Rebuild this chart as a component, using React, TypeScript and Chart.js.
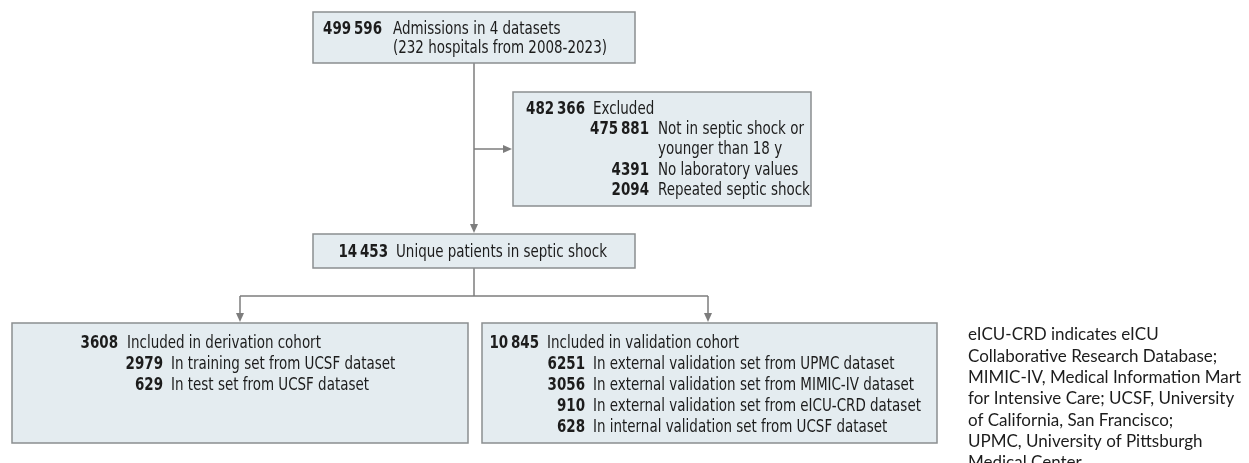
import React, { useEffect, useRef } from "react";
import { Chart, registerables } from "chart.js";

Chart.register(...registerables);

// ---- data ----
const totalAdmissions = 499596;
const sourceLines = ["Admissions in 4 datasets", "(232 hospitals from 2008-2023)"];
const excludedTotal = 482366;
const excludedCounts = [475881, 4391, 2094];
const excludedLabels = [
  ["Not in septic shock or", "younger than 18 y"],
  ["No laboratory values"],
  ["Repeated septic shock"],
];
const uniquePatients = 14453;
const uniqueLabel = "Unique patients in septic shock";
const derivationTotal = 3608;
const derivationLabel = "Included in derivation cohort";
const derivationCounts = [2979, 629];
const derivationLabels = ["In training set from UCSF dataset", "In test set from UCSF dataset"];
const validationTotal = 10845;
const validationLabel = "Included in validation cohort";
const validationCounts = [6251, 3056, 910, 628];
const validationLabels = [
  "In external validation set from UPMC dataset",
  "In external validation set from MIMIC-IV dataset",
  "In external validation set from eICU-CRD dataset",
  "In internal validation set from UCSF dataset",
];
const footnoteLines = [
  "eICU-CRD indicates eICU",
  "Collaborative Research Database;",
  "MIMIC-IV, Medical Information Mart",
  "for Intensive Care; UCSF, University",
  "of California, San Francisco;",
  "UPMC, University of Pittsburgh",
  "Medical Center",
];

// ---- layout (canvas units) ----
const W = 1249;
const H = 463;
const BOX_FONT = "'Liberation Sans Narrow', 'DejaVu Sans Condensed', 'Roboto Condensed', sans-serif";
const BOX_SIZE = 17;
const BOX_SCALE_X = 0.88;
const TEXT_DY = 1.5;
const NOTE_FONT = "Lato, 'Open Sans', sans-serif";
const FILL = "#e4ecf0";
const BORDER = "#8b8e90";
const LINE = "#7d7d7d";
const TEXT = "#1c1c1c";

function fmt(n: number): string {
  const s = String(n);
  if (s.length <= 4) return s;
  return s.replace(/\B(?=(\d{3})+(?!\d))/g, "\u2009");
}

const flowPlugin = {
  id: "flow",
  afterDraw(chart: any) {
    const ctx: CanvasRenderingContext2D = chart.ctx;
    const xs = chart.scales.x;
    const ys = chart.scales.y;
    const px = (v: number) => xs.getPixelForValue(v);
    const py = (v: number) => ys.getPixelForValue(v);

    const box = (x0: number, y0: number, x1: number, y1: number) => {
      ctx.save();
      ctx.fillStyle = FILL;
      ctx.strokeStyle = BORDER;
      ctx.lineWidth = 1.5;
      ctx.fillRect(px(x0), py(y0), px(x1) - px(x0), py(y1) - py(y0));
      ctx.strokeRect(px(x0), py(y0), px(x1) - px(x0), py(y1) - py(y0));
      ctx.restore();
    };
    const line = (pts: number[][]) => {
      ctx.save();
      ctx.strokeStyle = LINE;
      ctx.lineWidth = 1.5;
      ctx.beginPath();
      pts.forEach((p, i) => (i === 0 ? ctx.moveTo(px(p[0]), py(p[1])) : ctx.lineTo(px(p[0]), py(p[1]))));
      ctx.stroke();
      ctx.restore();
    };
    const head = (x: number, y: number, dir: "down" | "right") => {
      ctx.save();
      ctx.fillStyle = LINE;
      ctx.beginPath();
      const X = px(x), Y = py(y);
      if (dir === "down") {
        ctx.moveTo(X, Y);
        ctx.lineTo(X - 4, Y - 9);
        ctx.lineTo(X + 4, Y - 9);
      } else {
        ctx.moveTo(X, Y);
        ctx.lineTo(X - 9, Y - 4);
        ctx.lineTo(X - 9, Y + 4);
      }
      ctx.closePath();
      ctx.fill();
      ctx.restore();
    };
    const text = (t: string, x: number, y: number, align: CanvasTextAlign, bold: boolean) => {
      ctx.save();
      ctx.translate(px(x), py(y + TEXT_DY));
      ctx.scale(BOX_SCALE_X, 1);
      ctx.fillStyle = TEXT;
      ctx.textBaseline = "middle";
      ctx.textAlign = align;
      ctx.font = `${bold ? "bold " : ""}${BOX_SIZE}px ${BOX_FONT}`;
      ctx.fillText(t, 0, 0);
      ctx.restore();
    };
    const row = (num: number, numRight: number, lines: string[], textLeft: number, y: number, step: number) => {
      text(fmt(num), numRight, y, "right", true);
      lines.forEach((t, i) => text(t, textLeft, y + i * step, "left", false));
    };

    // connectors
    line([[474, 63], [474, 226]]);
    head(474, 233, "down");
    line([[474, 149], [505, 149]]);
    head(512, 149, "right");
    line([[474, 268], [474, 296]]);
    line([[240, 296], [708, 296]]);
    line([[240, 296], [240, 316]]);
    line([[708, 296], [708, 316]]);
    head(240, 322, "down");
    head(708, 322, "down");

    // top box
    box(313, 12, 635, 63);
    row(totalAdmissions, 382, sourceLines, 393, 28, 19);

    // excluded box
    box(513, 92, 811, 206);
    row(excludedTotal, 585, ["Excluded"], 593, 108, 20);
    let y = 128;
    excludedCounts.forEach((c, i) => {
      row(c, 649, excludedLabels[i], 658, y, 20.5);
      y += excludedLabels[i].length * 20.5;
    });

    // unique box
    box(313, 234, 635, 268);
    row(uniquePatients, 388, [uniqueLabel], 396, 251, 20);

    // derivation box
    box(12, 323, 468, 443);
    row(derivationTotal, 118, [derivationLabel], 127, 342, 20);
    derivationCounts.forEach((c, i) => row(c, 163, [derivationLabels[i]], 171, 363 + i * 21, 20));

    // validation box
    box(482, 323, 937, 443);
    row(validationTotal, 539, [validationLabel], 547, 342, 20);
    validationCounts.forEach((c, i) => row(c, 585, [validationLabels[i]], 593, 363 + i * 21, 20));

    // footnote
    ctx.save();
    ctx.fillStyle = TEXT;
    ctx.font = `17px ${NOTE_FONT}`;
    ctx.textBaseline = "middle";
    ctx.textAlign = "left";
    footnoteLines.forEach((t, i) => ctx.fillText(t, px(968), py(335 + i * 21.3)));
    ctx.restore();
  },
};

export default function App() {
  const ref = useRef<HTMLCanvasElement | null>(null);
  useEffect(() => {
    if (!ref.current) return;
    const chart = new Chart(ref.current, {
      type: "scatter",
      data: { datasets: [{ data: [], pointRadius: 0 }] },
      options: {
        animation: false,
        responsive: false,
        devicePixelRatio: 1,
        layout: { padding: 0 },
        plugins: { legend: { display: false }, tooltip: { enabled: false } },
        scales: {
          x: { type: "linear", min: 0, max: W, display: false },
          y: { type: "linear", min: 0, max: H, reverse: true, display: false },
        },
      },
      plugins: [flowPlugin],
    });
    return () => chart.destroy();
  }, []);
  return (
    <div style={{ position: "fixed", left: 0, top: 0, width: W, height: H, background: "#fff" }}>
      <canvas ref={ref} width={W} height={H} style={{ display: "block", width: W, height: H }} />
    </div>
  );
}
